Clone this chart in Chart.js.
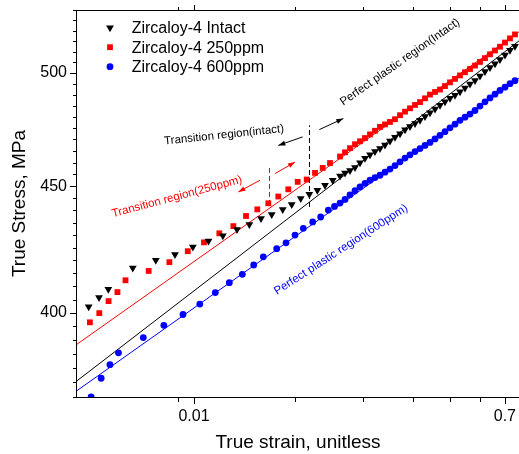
<!DOCTYPE html>
<html>
<head>
<meta charset="utf-8">
<script src="https://cdn.jsdelivr.net/npm/chart.js"></script>
<style>
    html, body { margin: 0; padding: 0; background: #ffffff; }
    canvas { display: block; }
</style>
</head>
<body>
<canvas id="stress_chart" width="519" height="454"></canvas>
<script>
/// True stress vs true strain (log-log) for Zircaloy-4 with different hydrogen levels

// Series names shown in the legend
const seriesNames = ['Zircaloy-4 Intact', 'Zircaloy-4 250ppm', 'Zircaloy-4 600ppm'];

// Zircaloy-4 intact (black triangles)
const intactStrain = [0.00237, 0.00273, 0.0031, 0.00433, 0.00593, 0.00771, 0.00984, 0.01219, 0.01483, 0.018,
    0.0213, 0.02498, 0.02892, 0.03361, 0.038, 0.04299, 0.04835, 0.05393, 0.05991, 0.06656,
    0.07355, 0.07873, 0.08429, 0.09025, 0.09665, 0.1035, 0.1108, 0.1186, 0.127, 0.136,
    0.1456, 0.1559, 0.167, 0.1788, 0.1914, 0.205, 0.2194, 0.2349, 0.2515, 0.2694,
    0.2884, 0.3087, 0.3306, 0.354, 0.379, 0.4058, 0.4345, 0.4653, 0.4981, 0.5333,
    0.5711, 0.6115, 0.6546, 0.701, 0.7506, 0.8035];
const intactStress = [402.3, 405.8, 408.9, 417.0, 420.1, 422.3, 425.3, 427.6, 429.7, 432.2,
    434.3, 436.7, 438.3, 440.4, 442.4, 444.9, 446.6, 448.3, 450.4, 452.5,
    454.3, 455.5, 456.6, 457.9, 459.9, 461.8, 463.3, 464.7, 466.0, 467.6,
    469.3, 470.9, 472.5, 474.2, 475.7, 477.0, 478.4, 480.1, 481.8, 483.5,
    485.2, 486.8, 488.3, 489.7, 491.3, 493.0, 494.8, 496.5, 498.6, 500.6,
    502.5, 504.3, 506.2, 508.4, 510.6, 512.5];

// Zircaloy-4 250ppm (red squares)
const h250Strain = [0.00241, 0.00274, 0.00311, 0.00351, 0.00392, 0.00538, 0.00714, 0.00918, 0.01146, 0.01413,
    0.01712, 0.02035, 0.02375, 0.0276, 0.03165, 0.03628, 0.04126, 0.04666, 0.05226, 0.05805, 0.06413,
    0.07355, 0.07873, 0.08429, 0.09025, 0.09665, 0.1035, 0.1108, 0.1186, 0.127, 0.136,
    0.1456, 0.1559, 0.167, 0.1788, 0.1914, 0.205, 0.2194, 0.2349, 0.2515, 0.2694,
    0.2884, 0.3087, 0.3306, 0.354, 0.379, 0.4058, 0.4345, 0.4653, 0.4981, 0.5333,
    0.5711, 0.6115, 0.6546, 0.701, 0.7506, 0.8035];
const h250Stress = [396.5, 399.9, 404.4, 407.8, 412.3, 415.9, 419.3, 423.6, 427.1, 430.7,
    433.6, 437.7, 440.4, 442.9, 445.7, 448.7, 451.8, 452.8, 455.6, 457.7, 459.8,
    462.6, 464.4, 466.2, 467.9, 469.2, 470.6, 472.2, 473.8, 475.5, 476.6,
    477.7, 478.9, 480.7, 482.3, 483.8, 485.3, 486.6, 488.3, 490.0, 491.2,
    492.3, 493.9, 495.6, 497.2, 498.8, 500.3, 501.8, 503.4, 505.1, 506.9,
    508.7, 510.5, 512.3, 514.3, 516.3, 518.2];

// Zircaloy-4 600ppm (blue circles)
const h600Strain = [0.00245, 0.00281, 0.00317, 0.00356, 0.005, 0.00662, 0.0086, 0.01082, 0.01338, 0.0162,
    0.01935, 0.02261, 0.02578, 0.03096, 0.03516, 0.03975, 0.04454, 0.05064, 0.05649, 0.06267, 0.06822,
    0.07355, 0.07873, 0.08429, 0.09025, 0.09665, 0.1035, 0.1108, 0.1186, 0.127, 0.136,
    0.1456, 0.1559, 0.167, 0.1788, 0.1914, 0.205, 0.2194, 0.2349, 0.2515, 0.2694,
    0.2884, 0.3087, 0.3306, 0.354, 0.379, 0.4058, 0.4345, 0.4653, 0.4981, 0.5333,
    0.5711, 0.6115, 0.6546, 0.701, 0.7506, 0.8035];
const h600Stress = [369.9, 376.4, 381.2, 385.4, 390.9, 395.4, 399.4, 403.3, 407.6, 411.4,
    414.6, 418.2, 421.4, 424.6, 426.9, 430.0, 432.7, 435.3, 437.3, 440.1, 441.6,
    443.0, 444.5, 446.4, 448.1, 449.7, 451.2, 452.5, 453.6, 454.6, 455.9,
    457.2, 458.7, 460.3, 461.9, 463.3, 464.7, 466.0, 467.4, 468.7, 470.2,
    471.8, 473.4, 475.1, 476.7, 478.4, 479.8, 481.2, 482.8, 484.8, 486.7,
    488.5, 490.2, 491.9, 493.4, 495.0, 496.4];

// Fitted straight lines (ends of each line)
const fitStrain = [0.00202, 0.849];
const intactFit = [375.5, 515.1];
const h250Fit = [388.5, 519.4];
const h600Fit = [372.1, 497.5];

// Axis ticks
const xTickLabels = [0.01, 0.7];
const xMinorTicks = [0.008, 0.04, 0.1, 0.2, 0.33, 0.5];
const yTickLabels = [400, 450, 500];
const yMinorStep = 5;

// Notes written on the plot
const notes = [
    {text: 'Transition region(intact)', x: 0.01507, y: 471.9, angle: -6, color: '#000000'},
    {text: 'Perfect plastic region(Intact)', x: 0.167, y: 505, angle: -35, color: '#000000'},
    {text: 'Transition region(250ppm)', x: 0.00793, y: 445.6, angle: -15, color: '#ff0000'},
    {text: 'Perfect plastic region(600ppm)', x: 0.07453, y: 424.2, angle: -33, color: '#0000ff'}
];
const dashes = [
    {x: 0.04835, y0: 441.4, y1: 476.2, color: '#000000'},
    {x: 0.02798, y0: 442.2, y1: 458.1, color: '#ff0000'}
];
const arrows = [
    {x0: 0.04416, y0: 471.1, x1: 0.03165, y1: 467.4, color: '#000000'},
    {x0: 0.05541, y0: 474.3, x1: 0.07691, y1: 479.2, color: '#000000'},
    {x0: 0.02465, y0: 452.5, x1: 0.01832, y1: 447.6, color: '#ff0000'},
    {x0: 0.03025, y0: 455.3, x1: 0.03975, y1: 460.2, color: '#ff0000'}
];

const fontFamily = "'Liberation Sans', Arial, sans-serif";

// If page is fully loaded
document.addEventListener("DOMContentLoaded", () => {
    createStressChart();
});

function pairs(xs, ys)
{
    return xs.map((x, i) => ({x: x, y: ys[i]}));
}

// draws one marker shape (used for the legend)
function drawMarker(ctx, style, x, y, r, color)
{
    ctx.fillStyle = color;
    ctx.beginPath();
    if (style === 'triangle') {
        const s = r * Math.sin(Math.PI / 3);
        ctx.moveTo(x, y + r);
        ctx.lineTo(x - s, y - r / 2);
        ctx.lineTo(x + s, y - r / 2);
        ctx.closePath();
    } else if (style === 'rect') {
        const h = r * Math.SQRT1_2;
        ctx.rect(x - h, y - h, 2 * h, 2 * h);
    } else {
        ctx.arc(x, y, r, 0, Math.PI * 2);
    }
    ctx.fill();
}

// plugin for the frame, tick marks, legend, notes and arrows
const overlay = {
    id: 'overlay',
    afterDraw(chart) {
        const ctx = chart.ctx;
        const a = chart.chartArea;
        const xs = chart.scales.x;
        const ys = chart.scales.y;
        const snap = v => Math.round(v) + 0.5;

        ctx.save();
        ctx.strokeStyle = '#000000';
        ctx.lineWidth = 1;

        // top frame line
        ctx.beginPath();
        ctx.moveTo(a.left, snap(a.top));
        ctx.lineTo(a.right, snap(a.top));
        ctx.stroke();

        // x ticks, bottom and top
        const xAll = xTickLabels.map(v => [v, 7]).concat(xMinorTicks.map(v => [v, 5]));
        xAll.forEach(([v, len]) => {
            const px = snap(xs.getPixelForValue(v));
            ctx.beginPath();
            ctx.moveTo(px, a.bottom);
            ctx.lineTo(px, a.bottom + len);
            ctx.moveTo(px, a.top);
            ctx.lineTo(px, a.top - len + 2);
            ctx.stroke();
        });

        // y ticks
        for (let v = 370; v <= 530; v += yMinorStep) {
            const len = yTickLabels.includes(v) ? 7 : 4;
            const py = snap(ys.getPixelForValue(v));
            ctx.beginPath();
            ctx.moveTo(a.left - len, py);
            ctx.lineTo(a.left, py);
            ctx.stroke();
        }

        // dashed region borders
        ctx.setLineDash([5, 3]);
        dashes.forEach(d => {
            const px = snap(xs.getPixelForValue(d.x));
            ctx.strokeStyle = d.color;
            ctx.beginPath();
            ctx.moveTo(px, ys.getPixelForValue(d.y0));
            ctx.lineTo(px, ys.getPixelForValue(d.y1));
            ctx.stroke();
        });
        ctx.setLineDash([]);

        // arrows
        arrows.forEach(ar => {
            const x0 = xs.getPixelForValue(ar.x0), y0 = ys.getPixelForValue(ar.y0);
            const x1 = xs.getPixelForValue(ar.x1), y1 = ys.getPixelForValue(ar.y1);
            const ang = Math.atan2(y1 - y0, x1 - x0);
            ctx.strokeStyle = ar.color;
            ctx.fillStyle = ar.color;
            ctx.beginPath();
            ctx.moveTo(x0, y0);
            ctx.lineTo(x1, y1);
            ctx.stroke();
            ctx.beginPath();
            ctx.moveTo(x1, y1);
            ctx.lineTo(x1 - 7 * Math.cos(ang) + 2.5 * Math.sin(ang), y1 - 7 * Math.sin(ang) - 2.5 * Math.cos(ang));
            ctx.lineTo(x1 - 7 * Math.cos(ang) - 2.5 * Math.sin(ang), y1 - 7 * Math.sin(ang) + 2.5 * Math.cos(ang));
            ctx.closePath();
            ctx.fill();
        });

        // rotated notes
        ctx.font = '11.5px ' + fontFamily;
        ctx.textAlign = 'center';
        ctx.textBaseline = 'middle';
        notes.forEach(n => {
            ctx.save();
            ctx.translate(xs.getPixelForValue(n.x), ys.getPixelForValue(n.y));
            ctx.rotate(n.angle * Math.PI / 180);
            ctx.fillStyle = n.color;
            ctx.fillText(n.text, 0, 0);
            ctx.restore();
        });

        // legend in the upper left corner
        ctx.font = '16px ' + fontFamily;
        ctx.textAlign = 'left';
        chart.data.datasets.slice(0, 3).forEach((ds, i) => {
            const my = a.top + 17.7 + i * 19.5;
            drawMarker(ctx, ds.pointStyle, a.left + 33, my, ds.pointRadius, ds.pointBackgroundColor);
            ctx.fillStyle = '#000000';
            ctx.fillText(ds.label, a.left + 54.7, my + 1);
        });

        ctx.restore();
    }
};

// function that will create the stress-strain chart
function createStressChart()
{
    const chart = document.getElementById("stress_chart");

    new Chart(chart, {
        type: 'scatter',
        data: {
            datasets: [
                {
                    label: seriesNames[0],
                    data: pairs(intactStrain, intactStress),
                    pointStyle: 'triangle',
                    pointRotation: 180,
                    pointRadius: 4.5,
                    pointBackgroundColor: '#000000',
                    pointBorderWidth: 0
                },
                {
                    label: seriesNames[1],
                    data: pairs(h250Strain, h250Stress),
                    pointStyle: 'rect',
                    pointRadius: 4.1,
                    pointBackgroundColor: '#ff0000',
                    pointBorderWidth: 0
                },
                {
                    label: seriesNames[2],
                    data: pairs(h600Strain, h600Stress),
                    pointStyle: 'circle',
                    pointRadius: 3.4,
                    pointBackgroundColor: '#0000ff',
                    pointBorderWidth: 0
                },
                {
                    label: 'Intact fit',
                    data: pairs(fitStrain, intactFit),
                    showLine: true,
                    borderColor: '#000000',
                    borderWidth: 1,
                    pointRadius: 0
                },
                {
                    label: '250ppm fit',
                    data: pairs(fitStrain, h250Fit),
                    showLine: true,
                    borderColor: '#ff0000',
                    borderWidth: 1,
                    pointRadius: 0
                },
                {
                    label: '600ppm fit',
                    data: pairs(fitStrain, h600Fit),
                    showLine: true,
                    borderColor: '#0000ff',
                    borderWidth: 1,
                    pointRadius: 0
                }
            ]
        },
        options: {
            responsive: false,
            devicePixelRatio: 1,
            animation: false,
            layout: {
                autoPadding: false,
                padding: {top: 10, left: 0, right: 0, bottom: 0}
            },
            plugins: {
                legend: {display: false},
                tooltip: {enabled: false}
            },
            scales: {
                x: {
                    type: 'logarithmic',
                    min: 0.00202,
                    max: 0.849,
                    afterBuildTicks: scale => {
                        scale.ticks = xTickLabels.map(v => ({value: v}));
                    },
                    // the plot runs to the right edge of the picture
                    afterFit: scale => {
                        scale.paddingLeft = 0;
                        scale.paddingRight = 0;
                    },
                    ticks: {
                        callback: value => String(value),
                        color: '#000000',
                        font: {family: fontFamily, size: 16},
                        padding: 0,
                        maxRotation: 0,
                        autoSkip: false
                    },
                    // tick marks are drawn by the overlay plugin, this only keeps the label gap
                    grid: {display: true, drawOnChartArea: false, drawTicks: true, tickLength: 10, tickColor: 'rgba(0,0,0,0)'},
                    border: {display: true, color: '#000000', width: 1},
                    title: {
                        display: true,
                        text: 'True strain, unitless',
                        color: '#000000',
                        font: {family: fontFamily, size: 19},
                        padding: {top: 5, bottom: 0}
                    }
                },
                y: {
                    type: 'logarithmic',
                    min: 369.9,
                    max: 530.1,
                    afterBuildTicks: scale => {
                        scale.ticks = yTickLabels.map(v => ({value: v}));
                    },
                    ticks: {
                        callback: value => String(value),
                        color: '#000000',
                        font: {family: fontFamily, size: 16},
                        padding: 0,
                        autoSkip: false
                    },
                    grid: {display: true, drawOnChartArea: false, drawTicks: true, tickLength: 10, tickColor: 'rgba(0,0,0,0)'},
                    border: {display: true, color: '#000000', width: 1},
                    title: {
                        display: true,
                        text: 'True Stress, MPa',
                        color: '#000000',
                        font: {family: fontFamily, size: 19},
                        padding: {top: 8.6, bottom: 8.9}
                    }
                }
            }
        },
        plugins: [overlay]
    });
}
</script>
</body>
</html>
